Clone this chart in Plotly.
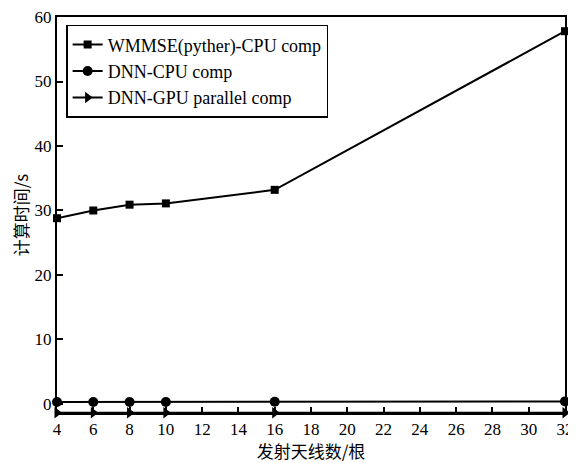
import plotly.graph_objects as go

antennas = [4, 6, 8, 10, 16, 32]
wmmse_cpu = [28.8, 30.0, 30.9, 31.1, 33.2, 57.8]
dnn_cpu = [0.3, 0.3, 0.3, 0.3, 0.35, 0.4]
dnn_gpu = [-1.35, -1.35, -1.35, -1.35, -1.35, -1.35]

names = ["WMMSE(pyther)-CPU comp", "DNN-CPU comp", "DNN-GPU parallel comp"]
x_ticks = list(range(4, 33, 2))
y_ticks = [0, 10, 20, 30, 40, 50, 60]

SERIF = "Liberation Serif, Times New Roman, serif"
CJK = "Noto Sans CJK SC"

fig = go.Figure()
series = [(wmmse_cpu, "square", 8), (dnn_cpu, "circle", 10), (dnn_gpu, "triangle-right", 10)]
for (vals, sym, sz), nm in zip(series, names):
    fig.add_trace(go.Scatter(
        x=antennas, y=vals, name=nm, mode="lines+markers",
        line=dict(color="black", width=2),
        marker=dict(symbol=sym, size=sz, color="black"),
        cliponaxis=False,
    ))

axis_common = dict(
    showline=True, linecolor="black", linewidth=2, mirror=True,
    ticks="inside", ticklen=6, tickwidth=2, tickcolor="black",
    showgrid=False, zeroline=False, automargin=False,
    ticklabeloverflow="allow",
    tickfont=dict(family=SERIF, size=17, color="black"),
)

# page body has an 8px default margin, so the figure is sized to fill the rest
fig.update_layout(
    width=568, height=455,
    margin=dict(l=49, r=11, t=9, b=50, autoexpand=False),
    paper_bgcolor="white", plot_bgcolor="white",
    font=dict(family=SERIF, size=16, color="black"),
    showlegend=True,
    legend=dict(
        x=0.018, y=0.98, xanchor="left", yanchor="top",
        bordercolor="black", borderwidth=1.5, bgcolor="white",
        font=dict(family=SERIF, size=18, color="black"),
        tracegroupgap=0, itemwidth=30,
    ),
    xaxis=dict(range=[4, 32], tickvals=x_ticks,
               title=dict(text="发射天线数/根", standoff=2,
                          font=dict(family=CJK, size=17, color="black")),
               **axis_common),
    yaxis=dict(range=[-1.4, 60], tickvals=y_ticks,
               title=dict(text="计算时间/s", standoff=4,
                          font=dict(family=CJK, size=17, color="black")),
               **axis_common),
)

fig.write_html("out.html")
